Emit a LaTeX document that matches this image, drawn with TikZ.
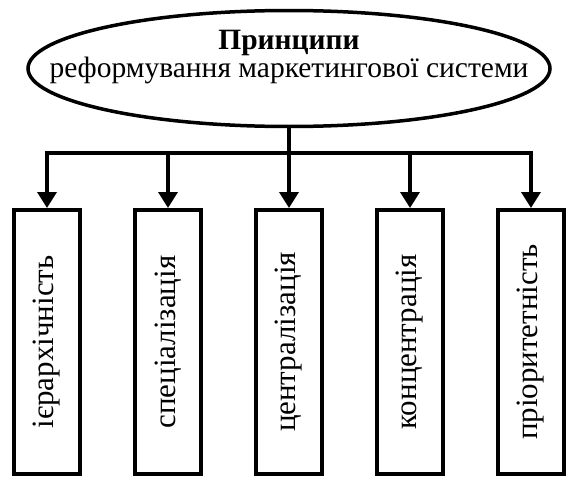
\documentclass[tikz,border=0pt]{standalone}
\usepackage{fontspec}
\setmainfont{Liberation Serif}
\usetikzlibrary{shapes.geometric,arrows.meta}
\begin{document}
\begin{tikzpicture}[x=1pt,y=-1pt,
  principle/.style={draw,line width=4pt,minimum width=66pt,minimum height=264pt,inner sep=0pt},
  link/.style={line width=3.5pt},
  arr/.style={link,-{Triangle[length=16pt,width=19pt]}},
  big/.style={font=\fontsize{31}{31}\selectfont}]
\useasboundingbox (0,0) rectangle (566,479);
\node[draw,ellipse,line width=3.5pt,minimum width=522pt,minimum height=116pt,inner sep=0pt] (top) at (289,68.5) {};
\node[font=\fontsize{29.5}{21}\selectfont,align=center,anchor=base,inner sep=0pt] (title) at (289,77)
  {{\bfseries Принципи}\\реформування маркетингової системи};
\foreach \i/\x/\txt in {1/47/ієрархічність,2/168/спеціалізація,3/289/централізація,4/410/концентрація,5/531/пріоритетність}{
  \node[principle] (b\i) at (\x,342) {};
  \node[rotate=90,big] (l\i) at (b\i.center) {\txt};
  \coordinate (c\i) at (\x,153);
}
\draw[link] (top.south) -- (c3);
\draw[link,line cap=rect] (c1) -- (c5);
\foreach \i in {1,...,5}{\draw[arr] (c\i) -- (b\i.north);}
\end{tikzpicture}
\end{document}
